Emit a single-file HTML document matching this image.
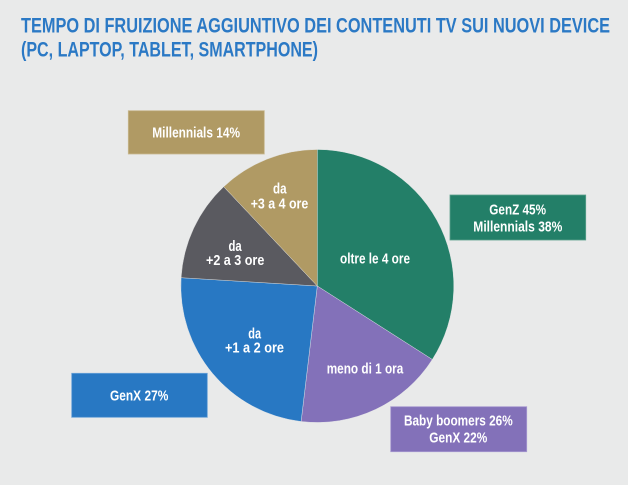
<!DOCTYPE html>
<html>
<head>
<meta charset="utf-8">
<style>
html,body{margin:0;padding:0;background:#e9eaea;}
svg{display:block;}
text{font-family:"Liberation Sans",Arial,sans-serif;font-weight:bold;}
</style>
</head>
<body>
<svg width="628" height="485" viewBox="0 0 628 485" xmlns="http://www.w3.org/2000/svg">
<rect x="0" y="0" width="628" height="485" fill="#e9eaea"/>
<!-- Title -->
<text x="21" y="32.3" font-size="21.7" fill="#2b79c5" textLength="589" lengthAdjust="spacingAndGlyphs">TEMPO DI FRUIZIONE AGGIUNTIVO DEI CONTENUTI TV SUI NUOVI DEVICE</text>
<text x="21" y="56.7" font-size="21.7" fill="#2b79c5" textLength="297" lengthAdjust="spacingAndGlyphs">(PC, LAPTOP, TABLET, SMARTPHONE)</text>

<!-- Pie -->
<g stroke="#e9eaea" stroke-width="0.4">
<path d="M317.3,286 L317.3,149.5 A136.5,136.5 0 0 1 432.3,359.5 Z" fill="#237f68"/>
<path d="M317.3,286 L432.3,359.5 A136.5,136.5 0 0 1 301.1,421.5 Z" fill="#8371b9"/>
<path d="M317.3,286 L301.1,421.5 A136.5,136.5 0 0 1 181.1,277.7 Z" fill="#2878c3"/>
<path d="M317.3,286 L181.1,277.7 A136.5,136.5 0 0 1 223.7,186.7 Z" fill="#5a5a60"/>
<path d="M317.3,286 L223.7,186.7 A136.5,136.5 0 0 1 317.3,149.5 Z" fill="#b09a64"/>
</g>

<!-- Pie labels -->
<g fill="#ffffff" font-size="14.5">
<text x="340" y="263.3" textLength="70" lengthAdjust="spacingAndGlyphs">oltre le 4 ore</text>
<text x="326.7" y="373.3" textLength="76.6" lengthAdjust="spacingAndGlyphs">meno di 1 ora</text>
<text x="248.3" y="338.3" textLength="12.8" lengthAdjust="spacingAndGlyphs">da</text>
<text x="225" y="352.7" textLength="59" lengthAdjust="spacingAndGlyphs">+1 a 2 ore</text>
<text x="228.5" y="251" textLength="13.2" lengthAdjust="spacingAndGlyphs">da</text>
<text x="206" y="265" textLength="58.3" lengthAdjust="spacingAndGlyphs">+2 a 3 ore</text>
<text x="273" y="193.3" textLength="13.5" lengthAdjust="spacingAndGlyphs">da</text>
<text x="250.7" y="208.3" textLength="57.6" lengthAdjust="spacingAndGlyphs">+3 a 4 ore</text>
</g>

<!-- Boxes -->
<rect x="128.3" y="110.7" width="136" height="43.3" fill="#b09a64" stroke="#c8b88f" stroke-width="0.8"/>
<rect x="450" y="195" width="135.7" height="45" fill="#237f68" stroke="#5aa08c" stroke-width="0.8"/>
<rect x="71.7" y="373.3" width="135.6" height="44" fill="#2878c3" stroke="#6aa2d8" stroke-width="0.8"/>
<rect x="390.7" y="406.7" width="136" height="45" fill="#8371b9" stroke="#a89ad0" stroke-width="0.8"/>

<g fill="#ffffff" font-size="15">
<text x="152.3" y="137.7" textLength="87.7" lengthAdjust="spacingAndGlyphs">Millennials 14%</text>
<text x="489.3" y="214.3" textLength="56.7" lengthAdjust="spacingAndGlyphs">GenZ 45%</text>
<text x="473.3" y="231.7" textLength="89" lengthAdjust="spacingAndGlyphs">Millennials 38%</text>
<text x="110" y="400.7" textLength="58.3" lengthAdjust="spacingAndGlyphs">GenX 27%</text>
<text x="404" y="425.7" textLength="108.7" lengthAdjust="spacingAndGlyphs">Baby boomers 26%</text>
<text x="429.3" y="442.7" textLength="58" lengthAdjust="spacingAndGlyphs">GenX 22%</text>
</g>
</svg>
</body>
</html>
